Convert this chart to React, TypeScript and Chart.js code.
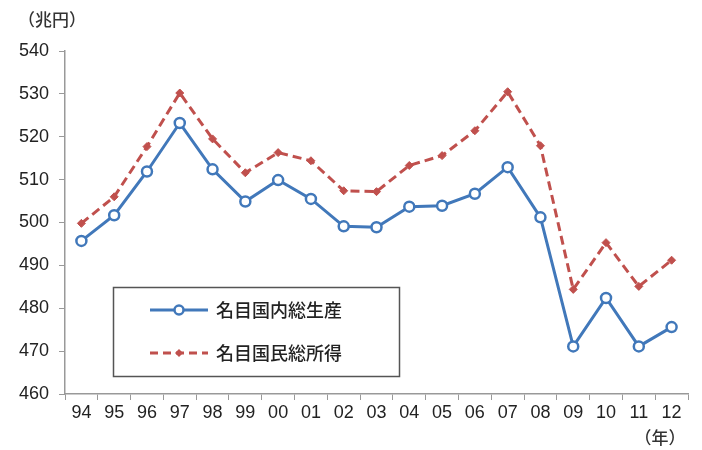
import React, { useEffect, useRef } from "react";
import { Chart, registerables } from "chart.js";

Chart.register(...registerables);

const years = ["94","95","96","97","98","99","00","01","02","03","04","05","06","07","08","09","10","11","12"];
const gdp = [495.7,501.7,511.9,523.2,512.4,504.9,509.9,505.5,499.1,498.9,503.7,503.9,506.7,512.9,501.2,471.1,482.4,471.1,475.6];
const gni = [499.8,506.0,517.7,530.2,519.5,511.6,516.3,514.4,507.4,507.2,513.3,515.6,521.4,530.5,517.9,484.4,495.3,485.1,491.2];
const seriesNames = ["名目国内総生産", "名目国民総所得"];
const yUnit = "（兆円）";
const xUnit = "（年）";

const BLUE = "#4178ba";
const RED = "#c0504d";
const CJK = "'Noto Sans CJK JP', 'Noto Sans', sans-serif";
const NUM = "'Liberation Sans', Arial, sans-serif";

const overlay = {
  id: "overlay",
  afterDraw(chart: any) {
    const ctx = chart.ctx;
    ctx.save();
    ctx.font = `500 17px ${CJK}`;
    ctx.fillStyle = "#333";
    ctx.textBaseline = "middle";
    ctx.textAlign = "center";
    ctx.fillText(yUnit, 52, 20);
    ctx.fillText(xUnit, 660, 438);
    // legend
    const lx = 113.5, ly = 287.5, lw = 286, lh = 89;
    ctx.fillStyle = "#fff";
    ctx.fillRect(lx, ly, lw, lh);
    ctx.strokeStyle = "#555";
    ctx.lineWidth = 1.5;
    ctx.strokeRect(lx, ly, lw, lh);
    const rows = [310, 353];
    // row 1
    ctx.strokeStyle = BLUE;
    ctx.lineWidth = 3;
    ctx.setLineDash([]);
    ctx.beginPath();
    ctx.moveTo(150, rows[0]);
    ctx.lineTo(208, rows[0]);
    ctx.stroke();
    ctx.beginPath();
    ctx.arc(179, rows[0], 4.5, 0, Math.PI * 2);
    ctx.fillStyle = "#fff";
    ctx.fill();
    ctx.lineWidth = 2.5;
    ctx.stroke();
    // row 2
    ctx.strokeStyle = RED;
    ctx.lineWidth = 3;
    ctx.setLineDash([8, 5]);
    ctx.beginPath();
    ctx.moveTo(150, rows[1]);
    ctx.lineTo(208, rows[1]);
    ctx.stroke();
    ctx.setLineDash([]);
    ctx.fillStyle = RED;
    ctx.beginPath();
    ctx.moveTo(179, rows[1] - 4);
    ctx.lineTo(183, rows[1]);
    ctx.lineTo(179, rows[1] + 4);
    ctx.lineTo(175, rows[1]);
    ctx.closePath();
    ctx.fill();
    ctx.fillStyle = "#222";
    ctx.font = `500 18px ${CJK}`;
    ctx.textAlign = "left";
    ctx.fillText(seriesNames[0], 216, rows[0]);
    ctx.fillText(seriesNames[1], 216, rows[1]);
    ctx.restore();
  },
};

export default function App() {
  const ref = useRef<HTMLCanvasElement>(null);
  useEffect(() => {
    const chart = new Chart(ref.current!, {
      type: "line",
      data: {
        labels: years,
        datasets: [
          {
            label: seriesNames[1],
            data: gni,
            borderColor: RED,
            backgroundColor: RED,
            borderWidth: 3,
            borderDash: [9, 5],
            pointStyle: "rectRot",
            pointRadius: 4,
            pointBackgroundColor: RED,
            pointBorderColor: RED,
            pointBorderWidth: 1,
            tension: 0,
          },
          {
            label: seriesNames[0],
            data: gdp,
            borderColor: BLUE,
            backgroundColor: "#fff",
            borderWidth: 3,
            pointStyle: "circle",
            pointRadius: 5,
            pointBackgroundColor: "#fff",
            pointBorderColor: BLUE,
            pointBorderWidth: 2.5,
            tension: 0,
          },
        ],
      },
      options: {
        animation: false,
        responsive: false,
        layout: { padding: { left: 0, right: 14, top: 51, bottom: 0 } },
        plugins: { legend: { display: false }, tooltip: { enabled: false } },
        scales: {
          x: {
            offset: true,
            grid: { offset: true, drawOnChartArea: false, drawTicks: true, tickLength: 6, color: "#999" },
            border: { color: "#999", width: 1.5 },
            ticks: { color: "#222", font: { size: 18, family: NUM }, padding: 2, maxRotation: 0, autoSkip: false },
            afterFit(scale: any) { scale.height = 56; },
          },
          y: {
            min: 460,
            max: 540,
            ticks: { stepSize: 10, color: "#222", font: { size: 18, family: NUM }, padding: 10 },
            grid: { drawOnChartArea: false, drawTicks: true, tickLength: 6, color: "#999" },
            border: { color: "#999", width: 1.5 },
            afterFit(scale: any) { scale.width = 65; },
          },
        },
      },
      plugins: [overlay],
    });
    return () => chart.destroy();
  }, []);
  return (
    <div style={{ position: "absolute", left: 0, top: 0, width: 702, height: 450, background: "#fff" }}>
      <canvas ref={ref} width={702} height={450} style={{ width: 702, height: 450 }} />
    </div>
  );
}
